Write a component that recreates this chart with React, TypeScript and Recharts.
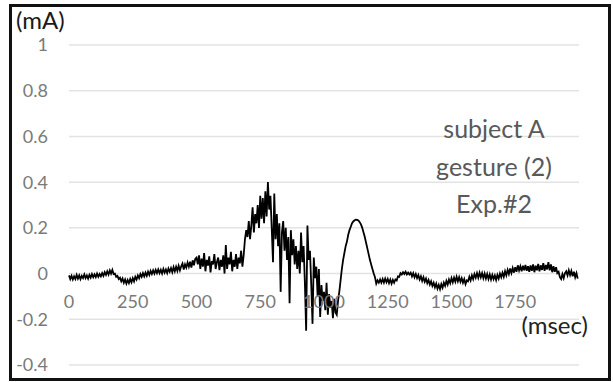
import React from 'react';
import { LineChart, Line, XAxis, YAxis, CartesianGrid } from 'recharts';

const STEP_MS = 5;
const currentMA: number[] = [
  -0.008,-0.024,-0.010,-0.026,-0.012,-0.024,-0.006,-0.022,-0.008,-0.024,-0.010,-0.020,-0.004,-0.020,-0.008,-0.022,-0.006,-0.018,-0.002,-0.016,
  -0.004,-0.016,0.000,-0.014,-0.002,-0.012,0.002,-0.010,0.006,-0.006,0.010,-0.004,0.014,0.000,0.016,-0.002,0.000,-0.014,-0.010,-0.024,
  -0.018,-0.034,-0.022,-0.040,-0.026,-0.044,-0.028,-0.042,-0.024,-0.038,-0.020,-0.034,-0.014,-0.026,-0.008,-0.020,-0.002,-0.014,0.002,-0.012,
  0.004,-0.010,0.008,-0.006,0.012,-0.002,0.014,0.000,0.016,0.002,0.018,0.002,0.016,0.000,0.020,0.004,0.018,0.002,0.022,0.008,
  0.024,0.006,0.028,0.010,0.030,0.012,0.034,0.014,0.032,0.044,0.018,0.040,0.026,0.048,0.030,0.052,0.026,0.058,0.036,0.064,
  0.070,0.040,0.080,0.020,0.065,0.030,0.090,0.010,0.060,0.035,0.075,0.005,0.055,0.040,0.085,0.020,0.050,0.070,0.015,0.060,
  0.030,0.080,0.000,0.125,0.020,0.070,0.040,0.095,0.010,0.060,0.030,0.085,0.020,0.070,0.045,0.100,0.030,0.080,0.150,0.190,
  0.160,0.230,0.150,0.210,0.290,0.180,0.260,0.220,0.300,0.200,0.340,0.240,0.330,0.220,0.360,0.250,0.400,0.280,0.340,0.200,
  0.050,0.350,0.150,0.260,0.120,0.220,-0.080,0.180,0.230,0.100,0.200,0.060,0.160,-0.130,0.190,0.080,0.150,0.040,0.120,0.020,
  0.100,0.000,0.180,0.050,0.120,-0.040,-0.250,0.210,0.060,0.100,-0.050,-0.220,0.070,-0.020,0.030,-0.100,0.020,-0.190,-0.050,-0.120,
  -0.080,-0.160,-0.040,-0.180,-0.090,-0.150,-0.120,-0.195,-0.110,-0.170,-0.180,-0.120,-0.080,-0.030,0.020,0.060,0.090,0.120,0.140,0.170,
  0.190,0.205,0.220,0.228,0.233,0.236,0.235,0.232,0.225,0.215,0.200,0.180,0.160,0.135,0.110,0.085,0.060,0.040,0.020,0.000,
  -0.016,-0.044,-0.030,-0.040,-0.026,-0.040,-0.024,-0.040,-0.022,-0.038,-0.024,-0.042,-0.026,-0.044,-0.028,-0.040,-0.026,-0.030,-0.012,-0.014,
  0.002,-0.004,0.006,-0.002,0.008,-0.004,0.004,-0.004,0.004,-0.012,0.002,-0.016,-0.002,-0.020,-0.006,-0.026,-0.012,-0.032,-0.016,-0.036,
  -0.022,-0.042,-0.028,-0.048,-0.034,-0.054,-0.040,-0.060,-0.044,-0.066,-0.050,-0.068,-0.046,-0.062,-0.040,-0.054,-0.032,-0.048,-0.026,-0.042,
  -0.020,-0.038,-0.018,-0.036,-0.014,-0.034,-0.016,-0.036,-0.020,-0.040,-0.024,-0.046,-0.030,-0.034,-0.014,-0.030,-0.008,-0.024,-0.002,-0.018,
  0.002,-0.018,0.004,-0.016,0.002,-0.020,0.000,-0.022,-0.002,-0.024,-0.004,-0.026,-0.006,-0.024,-0.008,-0.028,-0.006,-0.022,0.000,-0.016,
  0.004,-0.014,0.010,-0.008,0.016,-0.002,0.022,0.002,0.024,0.004,0.028,0.008,0.036,0.014,0.032,0.010,0.034,0.014,0.038,0.012,
  0.032,0.008,0.036,0.012,0.040,0.006,0.034,0.014,0.042,0.010,0.036,0.016,0.046,0.012,0.038,0.018,0.050,0.014,0.040,0.006,
  0.032,0.008,0.028,0.002,0.008,-0.016,-0.024,-0.002,-0.020,0.002,0.010,-0.008,0.014,-0.006,0.012,-0.012,0.008,-0.016,0.002,-0.022,
];
const xTicks = [0, 250, 500, 750, 1000, 1250, 1500, 1750];
const yTicks = [-0.4, -0.2, 0, 0.2, 0.4, 0.6, 0.8, 1];
const yLabels = ['-0.4', '-0.2', '0', '0.2', '0.4', '0.6', '0.8', '1'];
const annotation = ['subject A', 'gesture (2)', 'Exp.#2'];

const data = currentMA.map((v, i) => ({ t: i * STEP_MS, v }));

const FONT = 'Lato, "Open Sans", sans-serif';
const TICK_GRAY = '#7a7a7a';

const XTick = (props: any) => {
  const { x, payload } = props;
  return (
    <text x={x} y={308} textAnchor="middle" fill={TICK_GRAY} fontSize={18} fontFamily={FONT}>
      {payload.value}
    </text>
  );
};

export default function App() {
  return (
    <div style={{ position: 'absolute', left: 0, top: 0, width: 613, height: 382, background: '#fff' }}>
      <LineChart width={613} height={382} data={data} margin={{ top: 45, right: 34, bottom: 0, left: 0 }}>
        <CartesianGrid horizontal vertical={false} stroke="#e3e3e3" strokeWidth={1.5} />
        <XAxis
          dataKey="t"
          type="number"
          domain={[0, 2000]}
          ticks={xTicks}
          tick={XTick}
          axisLine={false}
          tickLine={false}
          height={17}
          interval={0}
        />
        <YAxis
          type="number"
          domain={[-0.4, 1]}
          ticks={yTicks}
          tickFormatter={(v: number) => yLabels[yTicks.indexOf(v)] ?? String(v)}
          axisLine={false}
          tickLine={false}
          tickSize={0}
          tickMargin={21}
          width={69}
          interval={0}
          tick={{ fill: TICK_GRAY, fontSize: 18, fontFamily: FONT }}
        />
        <Line
          type="linear"
          dataKey="v"
          stroke="#000"
          strokeWidth={1.8}
          dot={false}
          isAnimationActive={false}
        />
      </LineChart>
      <svg width={613} height={382} style={{ position: 'absolute', left: 0, top: 0, pointerEvents: 'none' }}>
        <rect x={10.5} y={5.5} width={599} height={374} fill="none" stroke="#111" strokeWidth={3} />
        <text x={16} y={29} fontSize={24} fontFamily={FONT} fill="#1a1a1a">(mA)</text>
        <text x={588} y={334} textAnchor="end" fontSize={24} fontFamily={FONT} fill="#222">(msec)</text>
        {annotation.map((line, i) => (
          <text key={line} x={494} y={138 + i * 37.5} textAnchor="middle" fontSize={25} fontFamily={FONT} fill="#595959">
            {line}
          </text>
        ))}
      </svg>
    </div>
  );
}
